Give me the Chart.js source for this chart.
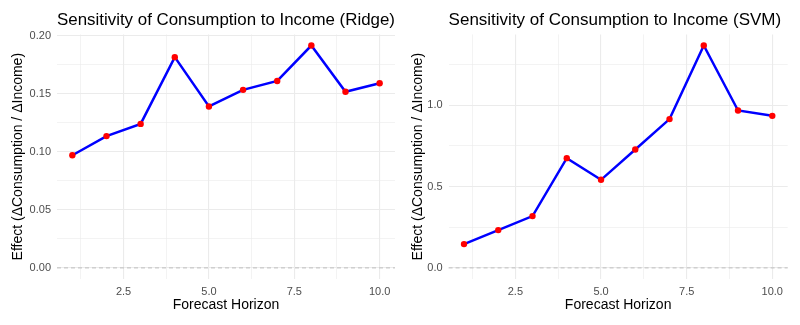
<!DOCTYPE html>
<html>
<head>
<meta charset="utf-8">
<script src="https://cdn.jsdelivr.net/npm/chart.js@4/dist/chart.umd.min.js"></script>
<style>
body{margin:0;background:#fff;}
.panel{position:absolute;top:0;width:400px;height:325px;}
</style>
</head>
<body>
<div class="panel" style="left:0"><canvas id="ridgeChart" width="400" height="325"></canvas></div>
<div class="panel" style="left:400px"><canvas id="svmChart" width="400" height="325"></canvas></div>
<script>
/* data */
var horizons = [1,2,3,4,5,6,7,8,9,10];
var ridgeEffect = [0.097,0.1135,0.124,0.1815,0.139,0.1533,0.161,0.1915,0.1517,0.159];
var svmEffect = [0.146,0.232,0.318,0.674,0.541,0.727,0.914,1.366,0.967,0.934];

var xTicks = [2.5,5.0,7.5,10.0];
var ridgeYTicks = [0,0.05,0.10,0.15,0.20];
var svmYTicks = [0,0.5,1.0];

var ridgeTitle = "Sensitivity of Consumption to Income (Ridge)";
var svmTitle = "Sensitivity of Consumption to Income (SVM)";
var xTitle = "Forecast Horizon";
var yTitle = "Effect (\u0394Consumption / \u0394Income)";

var fontFamily = "'Liberation Sans', Arial, Helvetica, sans-serif";

/* major ticks plus minor ones halfway between */
function withMinor(major, lo, hi){
var step = major[1]-major[0];
var out = [];
for(var v = major[0]-step/2; v <= major[major.length-1]+step/2+1e-9; v += step/2){
if(v >= lo && v <= hi) out.push({value: Math.round(v*1e6)/1e6});
}
return out;
}

function isMajor(list, v){
for(var i=0;i<list.length;i++){
if(Math.abs(list[i]-v) < 1e-9) return true;
}
return false;
}

/* dashed reference line at y = 0 */
var zeroLine = {
id:"zeroLine",
beforeDatasetsDraw:function(chart){
var ctx = chart.ctx, area = chart.chartArea;
var y = chart.scales.y.getPixelForValue(0);
ctx.save();
ctx.strokeStyle = "#bdbdbd";
ctx.lineWidth = 1;
ctx.setLineDash([4,3]);
ctx.beginPath();
ctx.moveTo(area.left, y);
ctx.lineTo(area.right, y);
ctx.stroke();
ctx.restore();
}
};

function makePanel(id, title, values, yTicks, decimals, yAxisWidth, padRight){

var points = [];
for(var i=0;i<horizons.length;i++){
points.push({x: horizons[i], y: values[i]});
}

/* ggplot style 5% expansion */
var xLo = Math.min.apply(null, horizons), xHi = Math.max.apply(null, horizons);
var xPad = (xHi-xLo)*0.05;
var yLo = Math.min(0, Math.min.apply(null, values)), yHi = Math.max.apply(null, values);
var yPad = (yHi-yLo)*0.05;

new Chart(document.getElementById(id).getContext("2d"), {
type:"line",
data:{
datasets:[{
data:points,
borderColor:"#0000ff",
borderWidth:2.5,
tension:0,
pointRadius:3.2,
pointHoverRadius:3.2,
pointBackgroundColor:"#ff0000",
pointBorderWidth:0,
clip:false
}]
},
options:{
responsive:false,
animation:false,
layout:{padding:{left:0, right:padRight, top:0, bottom:0}},
plugins:{
legend:{display:false},
tooltip:{enabled:false},
title:{
display:true,
text:title,
align:"start",
fullSize:false,
color:"#000",
font:{family:fontFamily, size:17, weight:"normal"},
padding:{top:10, bottom:4}
}
},
scales:{
x:{
type:"linear",
min:xLo-xPad,
max:xHi+xPad,
border:{display:false},
afterBuildTicks:function(scale){
scale.ticks = withMinor(xTicks, scale.min, scale.max);
},
afterFit:function(scale){ scale.height = 46; },
grid:{
drawTicks:false,
color:"#ebebeb",
lineWidth:function(c){ return isMajor(xTicks, c.tick.value) ? 1.1 : 0.6; }
},
ticks:{
autoSkip:false,
maxRotation:0,
padding:6,
color:"#4d4d4d",
font:{family:fontFamily, size:11},
callback:function(v){ return isMajor(xTicks, v) ? v.toFixed(1) : ""; }
},
title:{
display:true,
text:xTitle,
color:"#000",
font:{family:fontFamily, size:14},
padding:{top:0, bottom:11.6}
}
},
y:{
type:"linear",
min:yLo-yPad,
max:yHi+yPad,
border:{display:false},
afterBuildTicks:function(scale){
scale.ticks = withMinor(yTicks, scale.min, scale.max);
},
afterFit:function(scale){ scale.width = yAxisWidth; },
grid:{
drawTicks:false,
color:"#ebebeb",
lineWidth:function(c){ return isMajor(yTicks, c.tick.value) ? 1.1 : 0.6; }
},
ticks:{
autoSkip:false,
padding:6,
color:"#4d4d4d",
font:{family:fontFamily, size:11},
callback:function(v){ return isMajor(yTicks, v) ? v.toFixed(decimals) : ""; }
},
title:{
display:true,
text:yTitle,
color:"#000",
font:{family:fontFamily, size:14},
padding:{top:9.6, bottom:0}
}
}
}
},
plugins:[zeroLine]
});

}

makePanel("ridgeChart", ridgeTitle, ridgeEffect, ridgeYTicks, 2, 57, 5);
makePanel("svmChart", svmTitle, svmEffect, svmYTicks, 1, 48.6, 12.3);
</script>
</body>
</html>
